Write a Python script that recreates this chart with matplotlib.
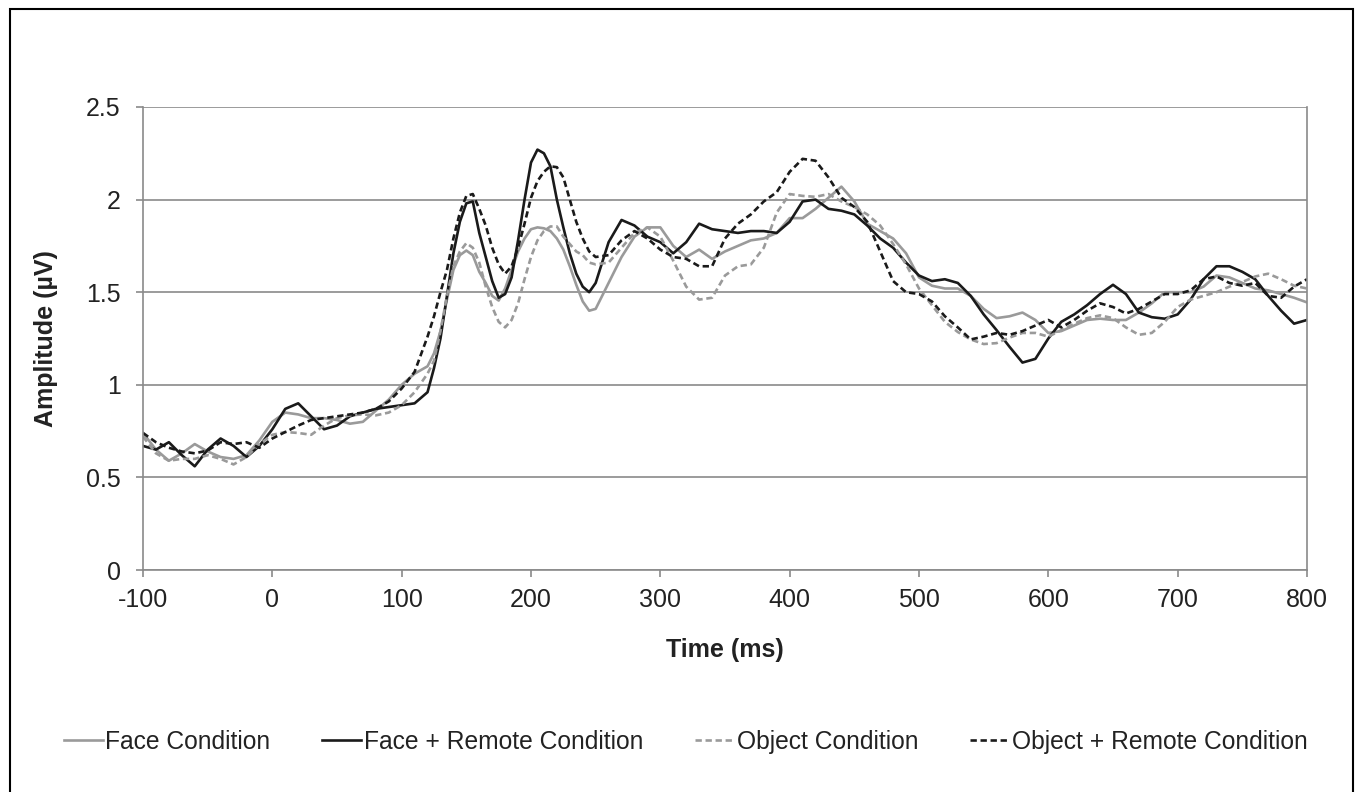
import numpy as np
import matplotlib.pyplot as plt
from matplotlib.patches import Rectangle

plt.rcParams['font.family'] = ['Liberation Sans', 'DejaVu Sans']
plt.rcParams['axes.unicode_minus'] = False

# time axis (ms): 10 ms steps, 5 ms steps around the early peaks
time_ms = np.concatenate([np.arange(-100, 121, 10),
                          np.arange(125, 251, 5),
                          np.arange(260, 801, 10)])

face = [0.74, 0.65, 0.59, 0.63, 0.68, 0.64, 0.61, 0.60, 0.62, 0.70, 0.80, 0.85,
        0.84, 0.82, 0.82, 0.81, 0.79, 0.80, 0.86, 0.92, 1.00, 1.06, 1.10,
        1.17, 1.29, 1.46, 1.62, 1.70, 1.725, 1.70, 1.61, 1.55, 1.48, 1.455, 1.52,
        1.62, 1.72, 1.79, 1.84, 1.85, 1.845, 1.83, 1.79, 1.73, 1.64, 1.54, 1.45, 1.40, 1.41,
        1.55, 1.69, 1.80, 1.85, 1.85, 1.75, 1.69, 1.73, 1.68, 1.72,
        1.75, 1.78, 1.79, 1.82, 1.90, 1.90, 1.95, 2.01, 2.07, 1.99,
        1.87, 1.83, 1.79, 1.71, 1.58, 1.535, 1.52, 1.52, 1.48, 1.41,
        1.36, 1.37, 1.39, 1.35, 1.28, 1.29, 1.32, 1.35, 1.357, 1.35,
        1.35, 1.39, 1.44, 1.50, 1.50, 1.50, 1.53, 1.59, 1.58, 1.55,
        1.52, 1.51, 1.49, 1.47, 1.445]

face_remote = [0.67, 0.65, 0.69, 0.62, 0.56, 0.65, 0.71, 0.67, 0.61, 0.67, 0.76, 0.87,
               0.90, 0.83, 0.76, 0.78, 0.83, 0.85, 0.87, 0.88, 0.89, 0.90, 0.96,
               1.09, 1.25, 1.48, 1.71, 1.88, 1.98, 1.99, 1.82, 1.69, 1.56, 1.47, 1.49,
               1.58, 1.78, 2.00, 2.20, 2.27, 2.25, 2.18, 2.00, 1.85, 1.71, 1.60, 1.53, 1.50, 1.55,
               1.77, 1.89, 1.86, 1.80, 1.77, 1.71, 1.77, 1.87, 1.84, 1.83,
               1.82, 1.83, 1.83, 1.82, 1.88, 1.99, 2.00, 1.95, 1.94, 1.92,
               1.86, 1.79, 1.74, 1.66, 1.59, 1.56, 1.57, 1.55, 1.48, 1.38,
               1.295, 1.205, 1.12, 1.14, 1.25, 1.34, 1.38, 1.43, 1.49, 1.54,
               1.49, 1.39, 1.365, 1.357, 1.38, 1.46, 1.57, 1.64, 1.64, 1.61,
               1.57, 1.48, 1.40, 1.33, 1.35]

obj = [0.72, 0.63, 0.59, 0.60, 0.60, 0.62, 0.60, 0.57, 0.61, 0.68, 0.73, 0.745,
       0.74, 0.73, 0.78, 0.82, 0.835, 0.84, 0.835, 0.85, 0.89, 0.96, 1.06,
       1.13, 1.29, 1.48, 1.64, 1.72, 1.765, 1.74, 1.66, 1.53, 1.42, 1.34, 1.31,
       1.35, 1.44, 1.57, 1.69, 1.78, 1.83, 1.855, 1.855, 1.80, 1.76, 1.72, 1.70, 1.66, 1.65,
       1.66, 1.74, 1.82, 1.85, 1.80, 1.67, 1.53, 1.46, 1.47, 1.59,
       1.64, 1.65, 1.74, 1.93, 2.03, 2.02, 2.015, 2.03, 1.99, 1.96,
       1.92, 1.86, 1.76, 1.65, 1.52, 1.43, 1.34, 1.285, 1.245, 1.22,
       1.225, 1.255, 1.28, 1.28, 1.26, 1.295, 1.33, 1.36, 1.375, 1.36,
       1.31, 1.27, 1.28, 1.34, 1.42, 1.46, 1.48, 1.50, 1.53, 1.555,
       1.585, 1.60, 1.57, 1.535, 1.52]

obj_remote = [0.74, 0.69, 0.66, 0.64, 0.63, 0.645, 0.69, 0.68, 0.69, 0.66, 0.71, 0.745,
              0.78, 0.81, 0.82, 0.83, 0.84, 0.85, 0.87, 0.91, 0.98, 1.07, 1.26,
              1.37, 1.50, 1.62, 1.79, 1.93, 2.02, 2.03, 1.95, 1.86, 1.74, 1.65, 1.60,
              1.64, 1.74, 1.87, 2.01, 2.10, 2.15, 2.18, 2.175, 2.12, 2.00, 1.88, 1.79, 1.72, 1.69,
              1.70, 1.78, 1.83, 1.79, 1.73, 1.69, 1.68, 1.64, 1.64, 1.79,
              1.87, 1.92, 1.99, 2.04, 2.15, 2.22, 2.21, 2.12, 2.01, 1.96,
              1.88, 1.72, 1.56, 1.50, 1.49, 1.45, 1.37, 1.31, 1.245, 1.26,
              1.28, 1.27, 1.29, 1.32, 1.35, 1.31, 1.35, 1.40, 1.44, 1.42,
              1.385, 1.41, 1.45, 1.49, 1.49, 1.51, 1.57, 1.585, 1.55, 1.535,
              1.55, 1.48, 1.47, 1.53, 1.57]

labels = ['Face Condition', 'Face + Remote Condition',
          'Object Condition', 'Object + Remote Condition']
x_ticks = np.arange(-100, 801, 100)
y_ticks = np.arange(0, 2.51, 0.5)

GRAY = '#9a9a9a'
DARK = '#1a1a1a'
GRID = '#8a8a8a'
TXT = '#222222'

fig = plt.figure(figsize=(13.55, 7.92), dpi=100)
ax = fig.add_axes([143 / 1355, 1 - 570 / 792, 1164 / 1355, 463 / 792])

dash = (0, (2.4, 1.4))
ax.plot(time_ms, face, color=GRAY, lw=1.9, label=labels[0])
ax.plot(time_ms, face_remote, color=DARK, lw=1.9, label=labels[1])
ax.plot(time_ms, obj, color=GRAY, lw=1.9, ls=dash, label=labels[2])
ax.plot(time_ms, obj_remote, color=DARK, lw=1.9, ls=dash, label=labels[3])

ax.set_xlim(-100, 800)
ax.set_ylim(0, 2.5)
ax.set_xticks(x_ticks)
ax.set_yticks(y_ticks)
ax.set_yticklabels(['0', '0.5', '1', '1.5', '2', '2.5'])
ax.yaxis.grid(True, color=GRID, lw=1.2)
ax.set_axisbelow(True)
for s in ['left', 'bottom', 'right']:
    ax.spines[s].set_color(GRID)
    ax.spines[s].set_linewidth(1.2)
ax.spines['top'].set_visible(False)
ax.tick_params(axis='both', direction='out', length=5, width=1.2, color=GRID,
               labelsize=18, labelcolor=TXT)
ax.tick_params(axis='y', pad=11)
ax.tick_params(axis='x', pad=8)

ax.set_xlabel('Time (ms)', fontsize=18, fontweight='bold', color=TXT)
ax.xaxis.set_label_coords(0.5, (570 - 650) / 463)
ax.xaxis.label.set_va('center')
ax.set_ylabel('Amplitude (µV)', fontsize=18, fontweight='bold', color=TXT)
ax.yaxis.set_label_coords((46 - 143) / 1164, 0.5)
ax.yaxis.label.set_va('center')

fig.legend(loc='center', bbox_to_anchor=(685.5 / 1355, 1 - 742 / 792), ncol=4,
           frameon=False, fontsize=17.7, handlelength=1.6, handletextpad=0.1,
           columnspacing=2.1, labelcolor=TXT)

# outer chart frame
fig.patches.append(Rectangle((10 / 1355, -0.05), 1343 / 1355, 1.05 - 9 / 792,
                             transform=fig.transFigure, fill=False,
                             edgecolor='black', lw=1.5))

fig.savefig('out.png', dpi=100)
